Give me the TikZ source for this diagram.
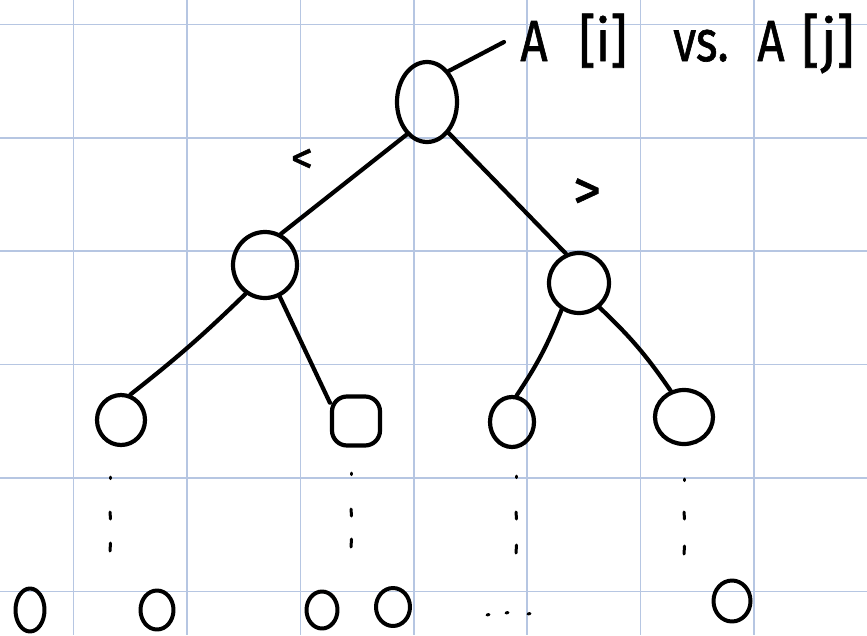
\documentclass[tikz,border=0pt]{standalone}
\usepackage{fontspec}
\usepackage{graphicx}
\setmainfont{Fira Sans}
\newfontfamily\handfont[FakeBold=1.2]{Fira Sans}
\usetikzlibrary{shapes.geometric}
\definecolor{gridblue}{RGB}{182,198,226}
\begin{document}
\begin{tikzpicture}[x=1pt,y=-1pt,
  ink/.style={line width=4.2pt, line cap=round, line join=round, black},
  tn/.style={ellipse, draw, ink, inner sep=0pt},
  sq/.style={rectangle, rounded corners=15pt, draw, ink, inner sep=0pt},
  leaf/.style={ellipse, draw, ink, line width=4pt, inner sep=0pt},
  tick/.style={line width=3pt, line cap=round, black},
  hand/.style={inner sep=0pt, anchor=base, font=\handfont\fontsize{58}{58}\selectfont},
  cmp/.style={inner sep=0pt, font=\handfont\fontsize{#1}{#1}\selectfont}
]
\useasboundingbox (0,0) rectangle (867,635);
\fill[white] (0,0) rectangle (867,635);

% squared paper
\foreach \k in {0,...,6}
  \draw[gridblue, line width=1.6pt] ({73.5+113.4*\k},0) -- ++(0,635);
\foreach \k in {0,...,5}
  \draw[gridblue, line width=1.6pt] (0,{24.3+113.4*\k}) -- ++(867,0);

% decision tree
\node[tn, minimum width=60pt, minimum height=80pt] (root) at (427,102) {};
\node[tn, minimum width=64pt, minimum height=66pt] (l) at (265,265) {};
\node[tn, minimum width=60pt, minimum height=60pt] (r) at (579,283) {};
\node[tn, minimum width=48pt, minimum height=50pt] (ll) at (121,420) {};
\node[sq, minimum width=48pt, minimum height=49pt] (lr) at (356,421) {};
\node[tn, minimum width=44pt, minimum height=50pt] (rl) at (512,422) {};
\node[tn, minimum width=58pt, minimum height=54pt] (rr) at (684,417) {};

\draw[ink] (root.238) -- (l.63);
\draw[ink] (root.305) -- (r.114);
\draw[ink] (l.236) to[bend left=3] (ll.70);
\draw[ink] (l.295) -- (lr.145);
\draw[ink] (r.237) to[bend left=6] (rl.80);
\draw[ink] (r.310) to[bend left=6] (rr.117);

% comparison labels
\node[cmp=44] (lt) at (302,161) {<};
\node[cmp=56] (gt) at (587,194) {>};

% caption of the root comparison
\node[hand] (ai) at (534,61) {\scalebox{0.82}[1]{A}};
\node[hand] (ii) at (603,61) {\scalebox{0.9}[1]{[i]}};
\node[hand] (vs) at (701,61) {\scalebox{0.8}[1]{vs.}};
\node[hand] (aj) at (771,61) {\scalebox{0.82}[1]{A}};
\node[hand] (jj) at (828,61) {\scalebox{0.95}[1]{[j]}};
\coordinate (tip) at (504,42);
\draw[ink] (root.55) -- (tip);

% elided levels
\foreach \x/\a/\b/\c in {110/477/512/543, 351/473/509/539, 516/476/512/545, 684/479/512/546}{
  \draw[tick] (\x,\a) -- ++(0,1.5);
  \draw[tick] (\x,\b) -- ++(0.5,7);
  \draw[tick] (\x+0.5,\c) -- ++(-0.5,8);
}

% leaves of the tree
\node[leaf, minimum width=29pt, minimum height=43pt] (b1) at (30,610) {};
\node[leaf, minimum width=33pt, minimum height=39pt] (b2) at (157,610) {};
\node[leaf, minimum width=31pt, minimum height=37pt] (b3) at (322,610) {};
\node[leaf, minimum width=34pt, minimum height=38pt] (b4) at (393,607) {};
\node[leaf, minimum width=37pt, minimum height=41pt] (b5) at (732,601) {};
\foreach \x/\y in {487/615, 506/613, 528/614}
  \draw[tick] (\x,\y) -- ++(2,-0.5);
\end{tikzpicture}
\end{document}
